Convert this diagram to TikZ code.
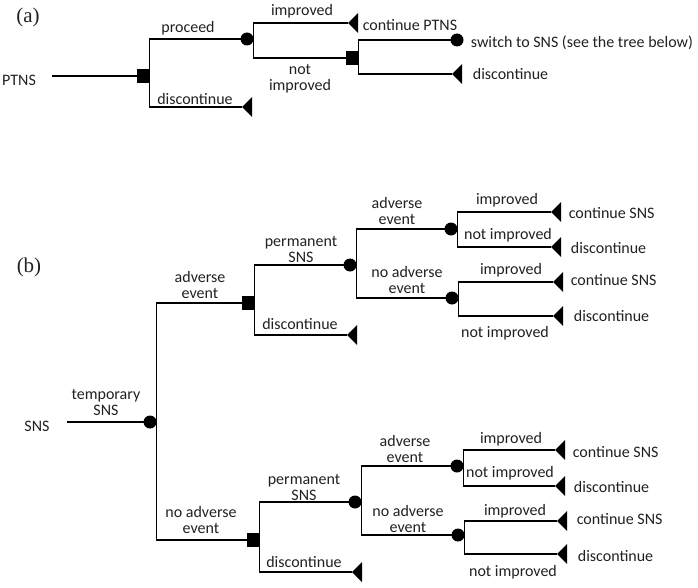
\documentclass[tikz,border=0pt]{standalone}
\usepackage{fontspec}
\setmainfont{Carlito}
\newfontfamily\seriffont{Liberation Serif}
\definecolor{txt}{gray}{0.13}
\begin{document}
\begin{tikzpicture}[x=1pt,y=-1pt, line width=1.7pt,
  dec/.style={fill=black, rectangle, minimum width=13pt, minimum height=14pt, inner sep=0pt, outer sep=0pt},
  chance/.style={fill=black, circle, minimum size=13pt, inner sep=0pt, outer sep=0pt},
  term/.style={rectangle, minimum width=10pt, minimum height=20pt, inner sep=0pt, outer sep=0pt, anchor=west,
    path picture={\fill (path picture bounding box.west) -- (path picture bounding box.north east) -- (path picture bounding box.south east) -- cycle;}},
  lbl/.style={font=\fontsize{16}{16}\selectfont, align=center, inner sep=0pt, text=txt},
  leaf/.style={lbl, anchor=west},
  tag/.style={font=\seriffont\fontsize{21}{22}\selectfont, inner sep=0pt, text=txt},
  br/.style={draw=black}]
\useasboundingbox (0,0) rectangle (698,588);

% ---------- (a) ----------
\node[tag] (taga) at (28,17) {(a)};
\node[lbl] (ptns) at (19,80) {PTNS};
\coordinate (a0) at (52,76);
\node[dec] (sq1) at (143,76) {};
\node[chance] (c1) at (247,39) {};
\node[term] (ta1) at (242,107) {};
\node[term] (ta2) at (348,23) {};
\node[dec] (sq2) at (352,58) {};
\node[chance] (c2) at (457,40) {};
\node[term] (ta3) at (452,74) {};

\draw[br] (a0) -- (sq1.west);
\draw[br] (sq1.east) |- (c1.west);
\draw[br] (sq1.east) |- (ta1.west);
\draw[br] (c1.east) |- (ta2.west);
\draw[br] (c1.east) |- (sq2.west);
\draw[br] (sq2.east) |- (c2.west);
\draw[br] (sq2.east) |- (ta3.west);

\node[lbl] (la1) at (188,28) {proceed};
\node[lbl] (la2) at (195,99) {discontinue};
\node[lbl] (la3) at (302,11) {improved};
\node[lbl] (la4) at (300,79) {not\\improved};
\node[leaf] (la5) at (362,25) {continue PTNS};
\node[leaf] (la6) at (470,43) {switch to SNS (see the tree below)};
\node[leaf] (la7) at (472,74) {discontinue};

% ---------- (b) ----------
\node[tag] (tagb) at (29,267) {(b)};
\node[lbl] (sns) at (37,426) {SNS};
\coordinate (b0) at (67,422);
\node[chance] (cb1) at (150,422) {};
\node[dec] (sqA) at (248,303) {};
\node[dec] (sqB) at (253,540) {};
\node[chance] (cA) at (350,265) {};
\node[term] (tA) at (347,335) {};
\node[chance] (cA1) at (451,229) {};
\node[chance] (cA2) at (452,298) {};
\node[term] (tA11) at (551,212) {};
\node[term] (tA12) at (551,247) {};
\node[term] (tA21) at (553,282) {};
\node[term] (tA22) at (553,316) {};
\node[chance] (cB) at (355,502) {};
\node[term] (tB) at (352,572) {};
\node[chance] (cB1) at (457,466) {};
\node[chance] (cB2) at (458,535) {};
\node[term] (tB11) at (555,450) {};
\node[term] (tB12) at (555,486) {};
\node[term] (tB21) at (557,521) {};
\node[term] (tB22) at (557,554) {};

\draw[br] (b0) -- (cb1.west);
\draw[br] (cb1.east) |- (sqA.west);
\draw[br] (cb1.east) |- (sqB.west);
\draw[br] (sqA.east) |- (cA.west);
\draw[br] (sqA.east) |- (tA.west);
\draw[br] (cA.east) |- (cA1.west);
\draw[br] (cA.east) |- (cA2.west);
\draw[br] (cA1.east) |- (tA11.west);
\draw[br] (cA1.east) |- (tA12.west);
\draw[br] (cA2.east) |- (tA21.west);
\draw[br] (cA2.east) |- (tA22.west);
\draw[br] (sqB.east) |- (cB.west);
\draw[br] (sqB.east) |- (tB.west);
\draw[br] (cB.east) |- (cB1.west);
\draw[br] (cB.east) |- (cB2.west);
\draw[br] (cB1.east) |- (tB11.west);
\draw[br] (cB1.east) |- (tB12.west);
\draw[br] (cB2.east) |- (tB21.west);
\draw[br] (cB2.east) |- (tB22.west);

\node[lbl] (lb1) at (106,402) {temporary\\SNS};
\node[lbl] (lb2) at (200,285) {adverse\\event};
\node[lbl] (lb3) at (201,520) {no adverse\\event};
\node[lbl] (lb4) at (301,249) {permanent\\SNS};
\node[lbl] (lb5) at (300,324) {discontinue};
\node[lbl] (lb6) at (304,487) {permanent\\SNS};
\node[lbl] (lb7) at (304,562) {discontinue};
\node[lbl] (lb8) at (397,211) {adverse\\event};
\node[lbl] (lb9) at (407,280) {no adverse\\event};
\node[lbl] (lb10) at (507,200) {improved};
\node[lbl] (lb11) at (508,235) {not improved};
\node[lbl] (lb12) at (511,270) {improved};
\node[lbl] (lb13) at (505,333) {not improved};
\node[lbl] (lb14) at (405,449) {adverse\\event};
\node[lbl] (lb15) at (408,519) {no adverse\\event};
\node[lbl] (lb16) at (511,439) {improved};
\node[lbl] (lb17) at (510,473) {not improved};
\node[lbl] (lb18) at (515,511) {improved};
\node[lbl] (lb19) at (513,572) {not improved};

\node[leaf] (lf1) at (568,213) {continue SNS};
\node[leaf] (lf2) at (570,248) {discontinue};
\node[leaf] (lf3) at (570,280) {continue SNS};
\node[leaf] (lf4) at (573,316) {discontinue};
\node[leaf] (lf5) at (572,452) {continue SNS};
\node[leaf] (lf6) at (573,487) {discontinue};
\node[leaf] (lf7) at (576,519) {continue SNS};
\node[leaf] (lf8) at (577,556) {discontinue};
\end{tikzpicture}
\end{document}
